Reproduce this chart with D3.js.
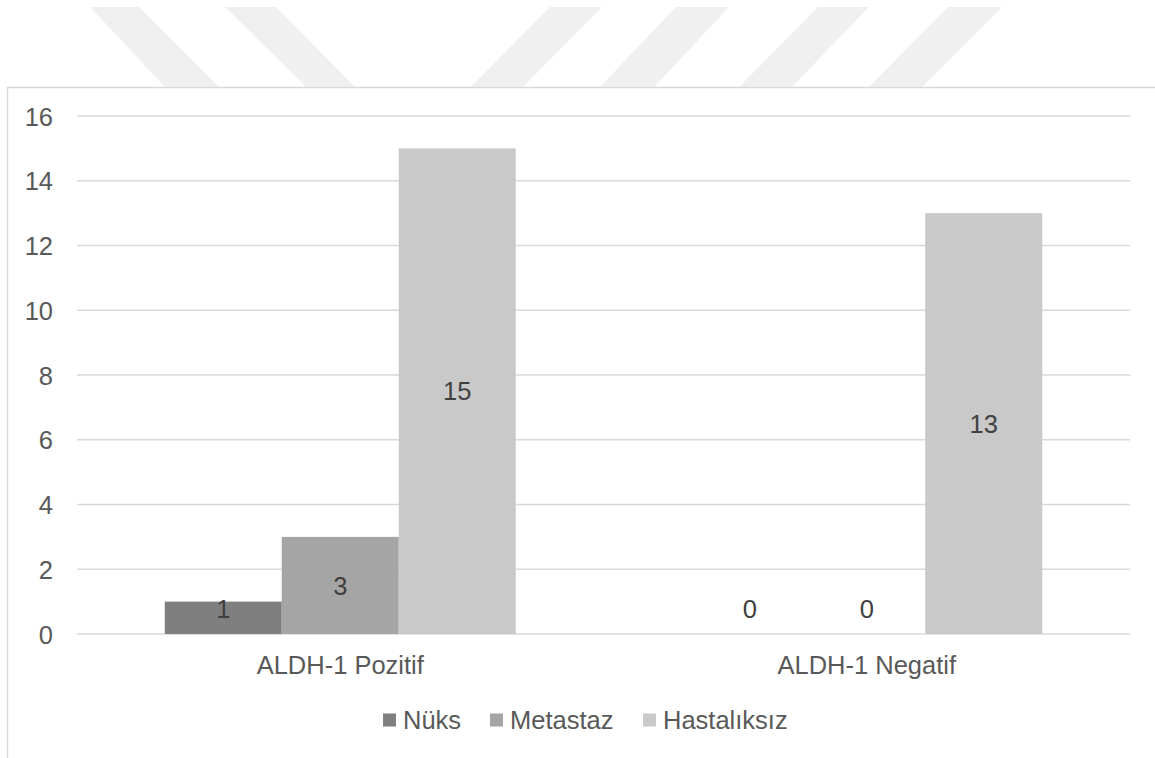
<!DOCTYPE html>
<html>
<head>
<meta charset="utf-8">
<script src="https://cdn.jsdelivr.net/npm/d3@7/dist/d3.min.js"></script>
<style>
  html, body { margin: 0; padding: 0; background: #ffffff; }
  svg { display: block; }
  text { font-family: "Liberation Sans", Arial, sans-serif; }
</style>
</head>
<body>
<svg id="chart" width="1155" height="758"></svg>
<script>
// Categories, series and values
const categories = ["ALDH-1 Pozitif", "ALDH-1 Negatif"];
const seriesNames = ["Nüks", "Metastaz", "Hastalıksız"];
const nuks = [1, 0];
const metastaz = [3, 0];
const hastaliksiz = [15, 13];
const yTicks = [0, 2, 4, 6, 8, 10, 12, 14, 16];

const seriesValues = [nuks, metastaz, hastaliksiz];
const seriesColors = ["#7f7f7f", "#a5a5a5", "#c9c9c9"];

const svg = d3.select("#chart");
const W = 1155, H = 758;

// Faint diagonal stripes in the page header band
const stripes = [
  [[90, 7], [139, 7], [219, 87], [165, 87]],
  [[225, 7], [276, 7], [355, 87], [306, 87]],
  [[550, 7], [602, 7], [523, 87], [471, 87]],
  [[676, 7], [729, 7], [654, 87], [600, 87]],
  [[818, 7], [869, 7], [792, 87], [739, 87]],
  [[948, 7], [1002, 7], [922, 87], [869, 87]]
];
svg.append("g").selectAll("polygon").data(stripes).join("polygon")
  .attr("points", d => d.map(p => p.join(",")).join(" "))
  .attr("fill", "#f0f0f0");

// Chart frame
svg.append("rect")
  .attr("x", 7.5).attr("y", 87.5)
  .attr("width", W + 20).attr("height", H)
  .attr("fill", "#ffffff")
  .attr("stroke", "#d9d9d9").attr("stroke-width", 1.5);

// Scales
const x0 = d3.scaleBand().domain(categories).range([77, 1130]).padding(0);
const x1 = d3.scaleBand().domain(seriesNames).range([0, x0.bandwidth()])
  .paddingInner(0).paddingOuter(0.75);
const y = d3.scaleLinear().domain([0, 16]).range([634, 116]);

// Gridlines
svg.append("g").selectAll("line").data(yTicks).join("line")
  .attr("x1", 77).attr("x2", 1130)
  .attr("y1", d => y(d)).attr("y2", d => y(d))
  .attr("stroke", "#d9d9d9").attr("stroke-width", 1.5);

// Y axis labels
const yAxis = d3.axisLeft(y).tickValues(yTicks).tickSize(0).tickPadding(0);
const yg = svg.append("g").attr("transform", "translate(53,0)").call(yAxis);
yg.select(".domain").remove();
yg.selectAll("text")
  .attr("fill", "#595959")
  .style("font-size", "25.5px")
  .attr("dy", "0.36em");

// Category labels
const xAxis = d3.axisBottom(x0).tickSize(0).tickPadding(0);
const xg = svg.append("g").attr("transform", "translate(0,656)").call(xAxis);
xg.select(".domain").remove();
xg.selectAll("text")
  .attr("fill", "#595959")
  .style("font-size", "25.5px")
  .attr("dy", "0.71em");

// Bars
const flat = [];
categories.forEach((c, ci) => {
  seriesNames.forEach((s, si) => {
    flat.push({ cat: c, series: s, value: seriesValues[si][ci], color: seriesColors[si] });
  });
});

svg.append("g").selectAll("rect").data(flat).join("rect")
  .attr("x", d => x0(d.cat) + x1(d.series))
  .attr("y", d => y(d.value))
  .attr("width", x1.bandwidth())
  .attr("height", d => y(0) - y(d.value))
  .attr("fill", d => d.color);

// Value labels, centred in the bar but kept above the baseline
svg.append("g").selectAll("text").data(flat).join("text")
  .attr("x", d => x0(d.cat) + x1(d.series) + x1.bandwidth() / 2)
  .attr("y", d => Math.min((y(d.value) + y(0)) / 2, y(0) - 25))
  .attr("dy", "0.36em")
  .attr("text-anchor", "middle")
  .attr("fill", "#404040")
  .style("font-size", "25.5px")
  .text(d => d.value);

// Legend
const legendItems = [
  { name: seriesNames[0], color: seriesColors[0], x: 383 },
  { name: seriesNames[1], color: seriesColors[1], x: 490 },
  { name: seriesNames[2], color: seriesColors[2], x: 643 }
];
const lg = svg.append("g").selectAll("g").data(legendItems).join("g")
  .attr("transform", d => `translate(${d.x},720)`);
lg.append("rect")
  .attr("x", 0).attr("y", -6.5)
  .attr("width", 13).attr("height", 13)
  .attr("fill", d => d.color);
lg.append("text")
  .attr("x", 20).attr("y", 0).attr("dy", "0.36em")
  .attr("fill", "#595959")
  .style("font-size", "25.5px")
  .text(d => d.name);
</script>
</body>
</html>
